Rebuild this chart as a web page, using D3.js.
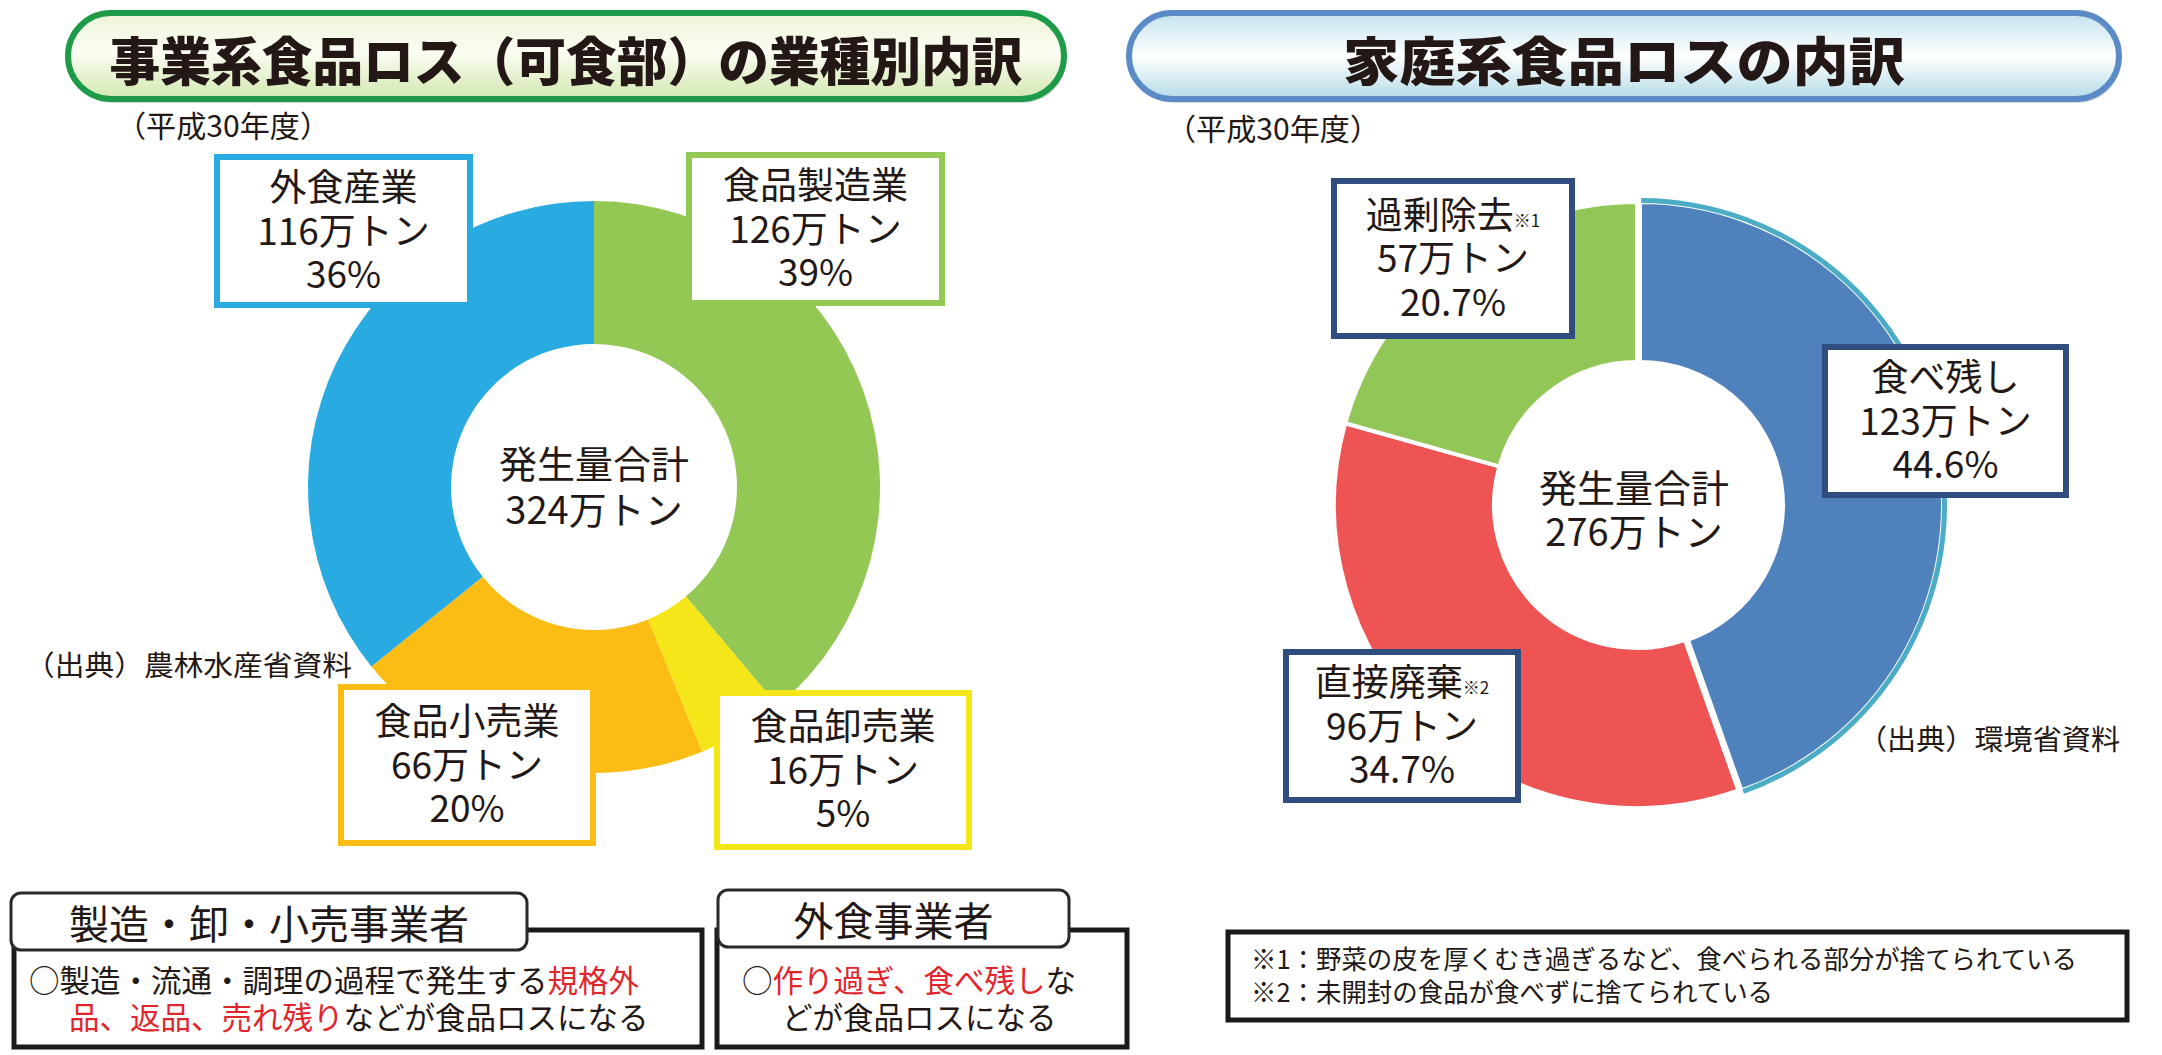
<!DOCTYPE html>
<html>
<head>
<meta charset="utf-8">
<script src="https://cdn.jsdelivr.net/npm/d3@7"></script>
<style>
  body { margin: 0; background: #fff; }
  svg { display: block; }
  text { font-family: "Noto Sans CJK JP", "Noto Sans", sans-serif; fill: #231815; }
</style>
</head>
<body>
<svg id="chart" width="2162" height="1055"></svg>
<script>
// --- data: business food loss (H30) ---
const bizCategories = ['食品製造業', '食品卸売業', '食品小売業', '外食産業'];
const bizValues = [126, 16, 66, 116];
const bizShares = ['39%', '5%', '20%', '36%'];
const bizTotal = 324;

// --- data: household food loss (H30) ---
const homeCategories = ['食べ残し', '直接廃棄', '過剰除去'];
const homeNotes = ['', '※2', '※1'];
const homeValues = [123, 96, 57];
const homeShares = ['44.6%', '34.7%', '20.7%'];
const homeTotal = 276;

const footnotes = [
  '※1：野菜の皮を厚くむき過ぎるなど、食べられる部分が捨てられている',
  '※2：未開封の食品が食べずに捨てられている'
];

const bizColors = ['#92C853', '#F4E619', '#FBBC14', '#29ABE2'];
const homeColors = ['#4F81BD', '#EF5455', '#92C656'];
const RED = '#E0262C';

const svg = d3.select('#chart');
const defs = svg.append('defs');

// title pill gradients
const gG = defs.append('linearGradient').attr('id', 'gGreen').attr('x1', 0).attr('y1', 0).attr('x2', 0).attr('y2', 1);
gG.append('stop').attr('offset', '0%').attr('stop-color', '#EDF4D8');
gG.append('stop').attr('offset', '45%').attr('stop-color', '#FBFDF3');
gG.append('stop').attr('offset', '100%').attr('stop-color', '#D2E8B0');
const gB = defs.append('linearGradient').attr('id', 'gBlue').attr('x1', 0).attr('y1', 0).attr('x2', 0).attr('y2', 1);
gB.append('stop').attr('offset', '0%').attr('stop-color', '#C4E3EF');
gB.append('stop').attr('offset', '50%').attr('stop-color', '#FFFFFF');
gB.append('stop').attr('offset', '100%').attr('stop-color', '#B4DBE8');

function pill(x, y, w, h, stroke, fill, title, tLen) {
  svg.append('rect').attr('x', x + 2).attr('y', y + 4).attr('width', w).attr('height', h)
    .attr('rx', h / 2).attr('fill', '#d8d8d8');
  svg.append('rect').attr('x', x).attr('y', y).attr('width', w).attr('height', h)
    .attr('rx', h / 2).attr('fill', fill).attr('stroke', stroke).attr('stroke-width', 6);
  svg.append('text').attr('x', x + w / 2).attr('y', y + h / 2 + 2)
    .attr('text-anchor', 'middle').attr('dominant-baseline', 'central')
    .attr('font-size', 52).attr('font-weight', 900)
    .attr('textLength', tLen).attr('lengthAdjust', 'spacingAndGlyphs')
    .text(title);
}

pill(68, 13, 996, 86, '#1E9B48', 'url(#gGreen)', '事業系食品ロス（可食部）の業種別内訳', 913);
pill(1129, 13, 990, 86, '#5A8BC7', 'url(#gBlue)', '家庭系食品ロスの内訳', 562);

function note(x, y, str, len, size) {
  svg.append('text').attr('x', x).attr('y', y).attr('dominant-baseline', 'central')
    .attr('font-size', size || 28)
    .attr('textLength', len).attr('lengthAdjust', 'spacingAndGlyphs').text(str);
}
note(116, 124, '（平成30年度）', 214, 30);
note(1166, 127, '（平成30年度）', 214, 30);
note(25, 664, '（出典）農林水産省資料', 327);
note(1858, 738, '（出典）環境省資料', 262);

// multi-line centred text as one element
function stack(g, x, y0, gap, size, lines) {
  const t = g.append('text').attr('text-anchor', 'middle').attr('dominant-baseline', 'central')
    .attr('font-size', size);
  lines.forEach((ln, k) => {
    t.append('tspan').attr('x', x).attr('y', y0 + k * gap).text(ln.main);
    if (ln.sup) t.append('tspan').attr('font-size', 17).attr('dy', 6).text(ln.sup);
  });
  return t;
}

// --- left donut ---
const pie = d3.pie().sort(null).value(d => d);
const bizArcs = pie(bizValues);
const L = { cx: 594, cy: 487, R: 286, r: 143 };
const bizArc = d3.arc().innerRadius(L.r).outerRadius(L.R);
const gL = svg.append('g').attr('transform', `translate(${L.cx},${L.cy})`);
gL.selectAll('path').data(bizArcs).enter().append('path')
  .attr('d', bizArc).attr('fill', (d, i) => bizColors[i]);
stack(gL, 0, -26, 46, 38, [{ main: '発生量合計' }, { main: bizTotal + '万トン' }]);

// label boxes (layout only)
const bizBoxes = [
  { x: 689, y: 155, w: 253, h: 148 },
  { x: 717, y: 693, w: 252, h: 154 },
  { x: 341, y: 687, w: 252, h: 156 },
  { x: 217, y: 157, w: 253, h: 148 }
];

function labelBox(b, stroke, lines) {
  const g = svg.append('g');
  g.append('rect').attr('x', b.x).attr('y', b.y).attr('width', b.w).attr('height', b.h)
    .attr('fill', '#fff').attr('stroke', stroke).attr('stroke-width', 6);
  stack(g, b.x + b.w / 2, b.y + 28 + (b.h - 148) / 2, 43.5, 37, lines);
}

bizCategories.forEach((c, i) => {
  labelBox(bizBoxes[i], bizColors[i], [
    { main: c }, { main: bizValues[i] + '万トン' }, { main: bizShares[i] }
  ]);
});

// --- right donut ---
const homeArcs = pie(homeValues);
const H = { cx: 1637, cy: 505, R: 303, r: 143 };
const homeArc = d3.arc().innerRadius(H.r).outerRadius(H.R);
const gH = svg.append('g').attr('transform', `translate(${H.cx},${H.cy})`);
gH.selectAll('path.slice').data(homeArcs).enter().append('path')
  .attr('class', 'slice')
  .attr('transform', (d, i) => i === 0 ? 'translate(3,0)' : null)
  .attr('d', homeArc).attr('fill', (d, i) => homeColors[i])
  .attr('stroke', '#fff').attr('stroke-width', 4).attr('stroke-linejoin', 'round');
// cyan rim on the largest slice
gH.append('path')
  .attr('transform', 'translate(3,0)')
  .attr('d', d3.arc().innerRadius(H.R - 1).outerRadius(H.R + 4)
    .startAngle(homeArcs[0].startAngle + 0.004).endAngle(homeArcs[0].endAngle - 0.004)())
  .attr('fill', '#4BACC6');
stack(gH, -3, -20, 44, 38, [{ main: '発生量合計' }, { main: homeTotal + '万トン' }]);

const homeBoxes = [
  { x: 1825, y: 347, w: 241, h: 148 },
  { x: 1286, y: 652, w: 232, h: 148 },
  { x: 1334, y: 181, w: 238, h: 155 }
];
homeCategories.forEach((c, i) => {
  labelBox(homeBoxes[i], '#2F4D7E', [
    { main: c, sup: homeNotes[i] }, { main: homeValues[i] + '万トン' }, { main: homeShares[i] }
  ]);
});

// --- bottom notes ---
function tabBox(box, tab, heading, lines) {
  svg.append('rect').attr('x', box.x).attr('y', box.y).attr('width', box.w).attr('height', box.h)
    .attr('fill', '#fff').attr('stroke', '#1a1a1a').attr('stroke-width', 5);
  svg.append('rect').attr('x', tab.x).attr('y', tab.y).attr('width', tab.w).attr('height', tab.h)
    .attr('rx', 10).attr('fill', '#fff').attr('stroke', '#2a2a2a').attr('stroke-width', 3);
  svg.append('text').attr('x', tab.x + tab.w / 2).attr('y', tab.y + tab.h / 2)
    .attr('text-anchor', 'middle').attr('dominant-baseline', 'central')
    .attr('font-size', 40).text(heading);
  const t = svg.append('text').attr('dominant-baseline', 'central').attr('font-size', 30.5);
  lines.forEach(ln => {
    ln.parts.forEach((p, k) => {
      const s = t.append('tspan').style('fill', p.red ? RED : '#231815').text(p.s);
      if (k === 0) s.attr('x', ln.x).attr('y', ln.y);
    });
  });
}

tabBox({ x: 14, y: 930, w: 688, h: 117 }, { x: 11, y: 893, w: 516, h: 57 }, '製造・卸・小売事業者', [
  { x: 29, y: 979, parts: [{ s: '○製造・流通・調理の過程で発生する' }, { s: '規格外', red: true }] },
  { x: 69, y: 1016, parts: [{ s: '品、返品、売れ残り', red: true }, { s: 'などが食品ロスになる' }] }
]);
tabBox({ x: 717, y: 930, w: 410, h: 117 }, { x: 718, y: 890, w: 351, h: 57 }, '外食事業者', [
  { x: 742, y: 979, parts: [{ s: '○' }, { s: '作り過ぎ、食べ残し', red: true }, { s: 'な' }] },
  { x: 782, y: 1016, parts: [{ s: 'どが食品ロスになる' }] }
]);

svg.append('rect').attr('x', 1228).attr('y', 932).attr('width', 899).attr('height', 88)
  .attr('fill', '#fff').attr('stroke', '#1a1a1a').attr('stroke-width', 5);
const fnLens = [826, 522];
const fn = svg.append('text').attr('dominant-baseline', 'central').attr('font-size', 26);
footnotes.forEach((f, i) => {
  fn.append('tspan').attr('x', 1251).attr('y', 957 + i * 33)
    .attr('textLength', fnLens[i]).attr('lengthAdjust', 'spacingAndGlyphs').text(f);
});
</script>
</body>
</html>
